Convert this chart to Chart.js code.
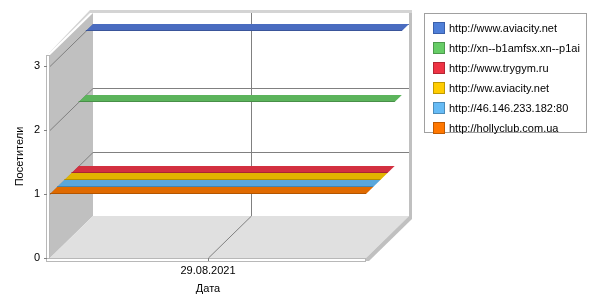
<!DOCTYPE html>
<html>
<head>
<meta charset="utf-8">
<script src="https://cdn.jsdelivr.net/npm/chart.js@4"></script>
<style>
  html, body { margin: 0; padding: 0; background: #fff; }
  #wrap { position: relative; width: 600px; height: 300px; }
  #legend {
    position: absolute; left: 424px; top: 13px; width: 161px; height: 118px;
    border: 1px solid #a0a0a0; background: #fff;
    font: 11px "Liberation Sans", Arial, sans-serif; color: #000;
  }
  .item { position: absolute; left: 8px; height: 14px; line-height: 14px; white-space: nowrap; }
  .item span { display: inline-block; width: 10px; height: 10px; border: 1px solid; vertical-align: top; margin-top: 1px; margin-right: 4px; }
</style>
</head>
<body>
<div id="wrap">
  <canvas id="chart" width="600" height="300"></canvas>
  <div id="legend"></div>
</div>
<script>
// данные графика
const dates = ['29.08.2021'];
const sites = [
  'http://www.aviacity.net',
  'http://xn--b1amfsx.xn--p1ai',
  'http://www.trygym.ru',
  'http://ww.aviacity.net',
  'http://46.146.233.182:80',
  'http://hollyclub.com.ua'
];
const visitors = [3, 2, 1, 1, 1, 1];
const yTicks = [0, 1, 2, 3];
const legendColors = ['#4f7fd8', '#66cc66', '#ee3344', '#ffcc00', '#66bbf5', '#ff7700'];
const legendBorders = ['#3a5faa', '#4c994c', '#b32633', '#bf9900', '#4d8cb8', '#bf5900'];
const ribbonColors = ['#4a6cc0', '#5cb45c', '#d33040', '#e2b400', '#5aa7dc', '#e06a00'];
const ribbonEdges = ['#3a559a', '#488f48', '#a82633', '#b58f00', '#4685b0', '#b35500'];

const DX = 43, DY = 42;          // глубина 3D
const SLOT = sites.length;

// легенда
const legendEl = document.getElementById('legend');
sites.forEach((name, i) => {
  const d = document.createElement('div');
  d.className = 'item';
  d.style.top = (7 + i * 20) + 'px';
  d.innerHTML = '<span style="background:' + legendColors[i] + ';border-color:' + legendBorders[i] + '"></span>' + name;
  legendEl.appendChild(d);
});

const box3d = {
  id: 'box3d',
  beforeDatasetsDraw(chart) {
    const ctx = chart.ctx;
    const x = chart.scales.x, y = chart.scales.y;
    const L = x.left, R = x.right, T = y.top, B = y.bottom;
    ctx.save();
    // левая стенка
    ctx.fillStyle = '#c0c0c0';
    ctx.beginPath();
    ctx.moveTo(L, T); ctx.lineTo(L + DX, T - DY); ctx.lineTo(L + DX, B - DY); ctx.lineTo(L, B);
    ctx.closePath(); ctx.fill();
    // пол
    ctx.fillStyle = '#e0e0e0';
    ctx.beginPath();
    ctx.moveTo(L, B); ctx.lineTo(R, B); ctx.lineTo(R + DX, B - DY); ctx.lineTo(L + DX, B - DY);
    ctx.closePath(); ctx.fill();
    // рамка: толщина стенок
    ctx.fillStyle = '#d4d4d4';
    ctx.beginPath();
    ctx.moveTo(L - 3, T); ctx.lineTo(L + DX - 3, T - DY); ctx.lineTo(R + DX + 3, T - DY);
    ctx.lineTo(R + DX + 3, T - DY - 3); ctx.lineTo(L + DX - 3, T - DY - 3); ctx.lineTo(L - 3, T);
    ctx.closePath(); ctx.fill();
    ctx.fillStyle = '#c0c0c0';
    ctx.fillRect(R + DX, T - DY, 3, B - T + 3);
    ctx.beginPath();
    ctx.moveTo(R, B); ctx.lineTo(R + DX, B - DY); ctx.lineTo(R + DX + 3, B - DY);
    ctx.lineTo(R + DX + 3, B - DY + 3); ctx.lineTo(R + 3, B + 3); ctx.lineTo(R, B + 3);
    ctx.closePath(); ctx.fill();
    ctx.fillStyle = '#fff';
    ctx.strokeStyle = '#b8b8b8';
    ctx.lineWidth = 1;
    ctx.fillRect(L - 3, T, 3, B - T + 3);
    ctx.strokeRect(L - 3.5, T + 0.5, 3, B - T + 3);
    ctx.fillRect(L - 3, B, R - L + 3, 3);
    ctx.strokeRect(L - 3.5, B + 0.5, R - L + 3, 3);
    // сетка
    ctx.strokeStyle = '#808080';
    y.ticks.forEach(t => {
      const py = Math.round(y.getPixelForValue(t.value)) + 0.5;
      ctx.beginPath();
      ctx.moveTo(L - 6, py); ctx.lineTo(L - 3, py);
      ctx.stroke();
      if (t.value === 0) return;
      ctx.beginPath();
      ctx.moveTo(L, py); ctx.lineTo(L + DX, py - DY); ctx.lineTo(R + DX, py - DY);
      ctx.stroke();
    });
    x.ticks.forEach((t, i) => {
      const px = Math.round(x.getPixelForTick(i)) + 0.5;
      ctx.beginPath();
      ctx.moveTo(px, B + 3); ctx.lineTo(px, B);
      ctx.lineTo(px + DX, B - DY); ctx.lineTo(px + DX, T - DY);
      ctx.stroke();
    });
    ctx.restore();
  },
  afterDatasetsDraw(chart) {
    const ctx = chart.ctx;
    const x = chart.scales.x, y = chart.scales.y;
    const L = x.left, R = x.right;
    const sx = DX / SLOT, sy = DY / SLOT;
    ctx.save();
    chart.data.datasets.forEach((ds, i) => {
      const s = SLOT - 1 - i;
      const py = y.getPixelForValue(ds.data[0]);
      const x0 = L + s * sx, y0 = py - s * sy;
      const x1 = L + (s + 1) * sx, y1 = py - (s + 1) * sy;
      const w = R - L;
      ctx.fillStyle = ribbonColors[i];
      ctx.beginPath();
      ctx.moveTo(x0, y0); ctx.lineTo(x0 + w, y0); ctx.lineTo(x1 + w, y1); ctx.lineTo(x1, y1);
      ctx.closePath(); ctx.fill();
      ctx.strokeStyle = ribbonEdges[i];
      ctx.lineWidth = 1;
      ctx.beginPath();
      ctx.moveTo(x0, Math.round(y0) - 0.5); ctx.lineTo(x0 + w, Math.round(y0) - 0.5);
      ctx.stroke();
    });
    ctx.restore();
  }
};

new Chart(document.getElementById('chart'), {
  type: 'line',
  data: {
    labels: dates,
    datasets: sites.map((name, i) => ({
      label: name,
      data: [visitors[i]],
      showLine: false,
      pointRadius: 0,
      borderColor: ribbonColors[i],
      backgroundColor: legendColors[i]
    }))
  },
  options: {
    responsive: false,
    animation: false,
    events: [],
    layout: { padding: { top: 55, right: 234, left: 0, bottom: 0 } },
    plugins: { legend: { display: false }, tooltip: { enabled: false } },
    scales: {
      x: {
        offset: true,
        grid: { display: false, drawTicks: false },
        border: { display: false },
        ticks: { color: '#000', padding: 6, font: { family: 'Liberation Sans', size: 11 } },
        title: { display: true, text: 'Дата', color: '#000', padding: { top: 0, bottom: 4 }, font: { family: 'Liberation Sans', size: 11 } },
        afterFit(scale) { scale.height = 42; }
      },
      y: {
        min: 0,
        max: 3.17,
        afterBuildTicks(scale) { scale.ticks = yTicks.map(v => ({ value: v })); },
        grid: { display: false, drawTicks: false },
        border: { display: false },
        ticks: { color: '#000', padding: 10, font: { family: 'Liberation Sans', size: 11 } },
        title: { display: true, text: 'Посетители', color: '#000', padding: { top: 13, bottom: 0 }, font: { family: 'Liberation Sans', size: 11 } },
        afterFit(scale) { scale.width = 50; }
      }
    }
  },
  plugins: [box3d]
});
</script>
</body>
</html>
